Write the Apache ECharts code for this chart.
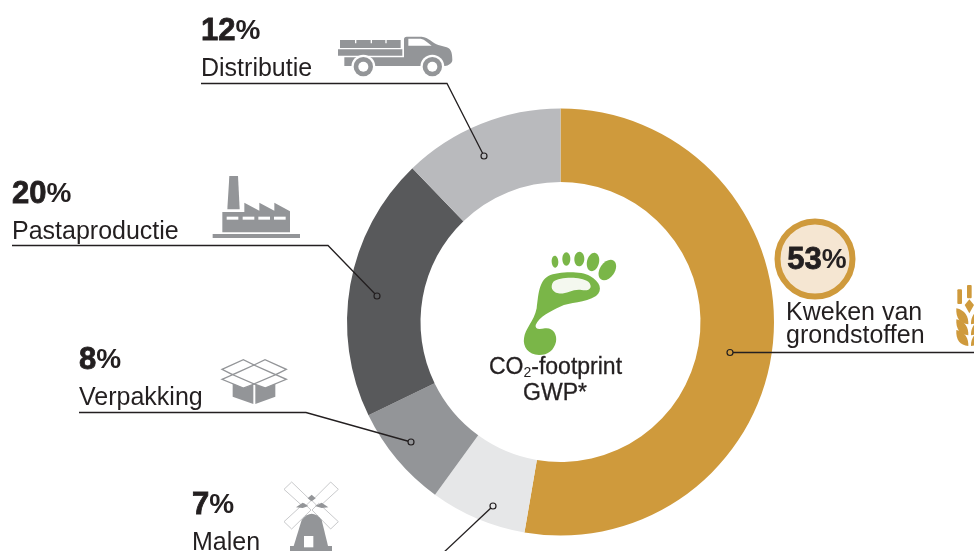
<!DOCTYPE html>
<html>
<head>
<meta charset="utf-8">
<style>html,body{margin:0;padding:0;background:#fff}#container{width:974px;height:551px}</style>
<script src="https://cdn.jsdelivr.net/npm/echarts@6/dist/echarts.min.js"></script>
</head>
<body>
<div id="container"></div>
<script>
var categories = ['Kweken van\ngrondstoffen', 'Malen', 'Verpakking', 'Pastaproductie', 'Distributie'];
var values = [52.7, 7.3, 7.8, 20, 12.2];
var colors = ['#cf9a3c', '#e6e7e8', '#939598', '#58595b', '#b9babd'];

var labelFont = '"Liberation Sans", sans-serif';
var ink = '#231f20';
var iconGrey = '#939598';

// label box and leader line per slice: dot, elbow, end
var labelPos = [
    {x: 786, y: 302},
    {x: 192, y: 486},
    {x: 79, y: 341},
    {x: 12, y: 175},
    {x: 201, y: 12}
];
var leaders = [
    [[730, 352.5], [974, 352.5]],
    [[493, 506], [425, 570]],
    [[411, 442], [306, 412.5], [79, 412.5]],
    [[377, 296], [328, 245.5], [12, 245.5]],
    [[484, 156], [447, 83.5], [201, 83.5]]
];

// the graphic component has no plain path type, so register each svg path as a shape
var pathCount = 0;
function svg(d, style) {
    var name = 'iconPath' + (pathCount++);
    echarts.graphic.registerShape(name, echarts.graphic.extendPath(d));
    return {type: name, style: style};
}

function truckIcon() {
    var kids = [
        {type: 'rect', shape: {x: 450, y: 120, width: 182, height: 24}, style: {fill: iconGrey}},
        {type: 'rect', shape: {x: 444, y: 148, width: 193, height: 19}, style: {fill: iconGrey}},
        svg('M642,172 L642,118 Q642,110 650,110 L695,110 C715,112 730,130 745,135 L770,142 C785,145 787,165 787,180 C787,190 775,197 765,198 L463,198 L463,172 Z', {fill: iconGrey}),
        svg('M655,116 L692,116 C705,118 715,130 725,137 L655,137 Z', {fill: '#fff'})
    ];
    [495, 542, 586].forEach(function (x) {
        kids.push({type: 'rect', shape: {x: x, y: 120, width: 4, height: 10}, style: {fill: '#fff'}});
    });
    [520, 727].forEach(function (cx) {
        kids.push({type: 'circle', shape: {cx: cx, cy: 200, r: 36}, style: {fill: '#fff'}});
        kids.push({type: 'circle', shape: {cx: cx, cy: 200, r: 29}, style: {fill: iconGrey}});
        kids.push({type: 'circle', shape: {cx: cx, cy: 200, r: 15}, style: {fill: '#fff'}});
    });
    return {type: 'group', x: 190, y: 0, scaleX: 1 / 3, scaleY: 1 / 3, silent: true, children: kids};
}

function factoryIcon() {
    var kids = [
        svg('M688,18 L714,18 L719,118 L682,118 Z', {fill: iconGrey}),
        svg('M667,187 L667,126 L733,126 L733,98 L778,122 L778,98 L823,122 L823,98 L870,124 L870,187 Z', {fill: iconGrey}),
        {type: 'rect', shape: {x: 638, y: 192, width: 262, height: 12}, style: {fill: iconGrey}}
    ];
    [680, 728, 775, 822].forEach(function (x) {
        kids.push({type: 'rect', shape: {x: x, y: 140, width: 35, height: 9}, style: {fill: '#fff'}});
    });
    return {type: 'group', x: 0, y: 170, scaleX: 1 / 3, scaleY: 1 / 3, silent: true, children: kids};
}

function boxIcon() {
    var flap = {stroke: iconGrey, fill: '#fff', lineWidth: 4};
    var kids = [
        svg('M698,632 L740,652 L760,640 L760,702 L698,680 Z', {fill: iconGrey}),
        svg('M766,640 L790,652 L826,632 L826,680 L766,702 Z', {fill: iconGrey}),
        svg('M666,598 L730,569 L762,585 L698,614 Z', flap),
        svg('M762,585 L795,569 L859,598 L827,614 Z', flap),
        svg('M666,628 L698,614 L762,642 L730,654 Z', flap),
        svg('M827,614 L859,628 L795,654 L762,642 Z', flap)
    ];
    return {type: 'group', x: 0, y: 170, scaleX: 1 / 3, scaleY: 1 / 3, silent: true, children: kids};
}

function millIcon() {
    var sail = {stroke: '#c9cacc', fill: '#fff', lineWidth: 3};
    var kids = [
        svg('M312,58 L335,36 L393,92 L372,112 Z', sail),
        svg('M475,58 L452,36 L396,92 L416,112 Z', sail),
        svg('M312,155 L335,177 L393,120 L372,100 Z', sail),
        svg('M475,155 L452,177 L396,120 L416,100 Z', sail),
        svg('M340,232 L365,150 Q395,112 425,150 L445,232 Z', {fill: iconGrey}),
        {type: 'rect', shape: {x: 330, y: 228, width: 126, height: 15}, style: {fill: iconGrey}},
        {type: 'rect', shape: {x: 372, y: 198, width: 28, height: 34}, style: {fill: '#fff'}},
        svg('M395,74 L407,85 L395,94 L383,85 Z', {fill: iconGrey}),
        svg('M348,112 L368,98 L385,108 L368,114 Z', {fill: iconGrey}),
        svg('M445,112 L425,98 L405,108 L425,114 Z', {fill: iconGrey})
    ];
    return {type: 'group', x: 180, y: 470, scaleX: 1 / 3, scaleY: 1 / 3, silent: true, children: kids};
}

function wheatIcon() {
    var gold = {fill: '#cf9a3c'};
    var kids = [
        {type: 'rect', shape: {x: 592, y: 238, width: 14, height: 44, r: 3}, style: gold},
        {type: 'rect', shape: {x: 621, y: 225, width: 14, height: 40, r: 3}, style: gold},
        svg('M628,268 L642,285 L628,310 L614,285 Z', gold)
    ];
    [295, 328, 360].forEach(function (y) {
        kids.push(svg('M589,' + y + ' C615,' + (y + 5) + ' 626,' + (y + 25) + ' 625,' + (y + 48) + ' C600,' + (y + 46) + ' 587,' + (y + 30) + ' 589,' + y + ' Z', gold));
        kids.push(svg('M667,' + y + ' C645,' + (y + 5) + ' 632,' + (y + 25) + ' 633,' + (y + 48) + ' C656,' + (y + 46) + ' 669,' + (y + 30) + ' 667,' + y + ' Z', gold));
    });
    return {type: 'group', x: 760, y: 210, scaleX: 1 / 3, scaleY: 1 / 3, silent: true, children: kids};
}

function footIcon() {
    var green = {fill: '#7ab648'};
    var toes = [[255, 65, 10, 18, 0.05], [289, 57, 12, 20, 0], [328, 57, 15, 22, -0.05], [369, 66, 18, 28, -0.25], [412, 90, 22, 34, -0.6]];
    var kids = [
        svg('M207,345 C175,345 158,320 162,295 C165,265 192,245 200,205 C205,170 205,125 235,108 C265,95 330,92 360,108 C390,125 400,150 378,168 C345,190 300,185 270,200 C240,215 208,228 197,255 C195,268 205,268 225,265 C250,262 262,285 258,305 C252,330 235,345 207,345 Z', green),
        svg('M250,125 C270,110 330,108 355,125 C370,140 360,155 335,150 C310,145 285,165 265,160 C245,155 240,140 250,125 Z', {fill: '#f4f8ef'})
    ];
    toes.forEach(function (t) {
        kids.push({type: 'ellipse', x: t[0], y: t[1], rotation: t[4], shape: {cx: 0, cy: 0, rx: t[2], ry: t[3]}, style: green});
    });
    return {type: 'group', x: 470, y: 240, scaleX: 1 / 3, scaleY: 1 / 3, silent: true, children: kids};
}

var myChart = echarts.init(document.getElementById('container'));

var pieData = categories.map(function (name, i) {
    return {name: name, value: values[i], itemStyle: {color: colors[i]}};
});

var graphics = [truckIcon(), factoryIcon(), boxIcon(), millIcon(), wheatIcon(), footIcon()];

// leader lines and their dots go over the slices
leaders.forEach(function (l, i) {
    graphics.push({
        type: 'polyline', z: 20, silent: true,
        shape: {points: l},
        style: {fill: 'none', stroke: ink, lineWidth: 1.3}
    });
    graphics.push({
        type: 'circle', z: 21, silent: true,
        shape: {cx: l[0][0], cy: l[0][1], r: 3},
        style: {fill: colors[i], stroke: ink, lineWidth: 1.2}
    });
});

// 53% badge
graphics.push({type: 'circle', silent: true, shape: {cx: 815, cy: 259, r: 37.5}, style: {fill: '#f5e6d2', stroke: '#cf9a3c', lineWidth: 6}});
graphics.push({
    type: 'text', silent: true, x: 817, y: 260,
    style: {
        text: '{n|' + Math.round(values[0]) + '}{p|%}', align: 'center', verticalAlign: 'middle',
        rich: {
            n: {fontFamily: labelFont, fontSize: 31, fontWeight: 'bold', fill: ink, stroke: ink, lineWidth: 0.8},
            p: {fontFamily: labelFont, fontSize: 28, fontWeight: 'bold', fill: ink}
        }
    }
});

// centre caption
graphics.push({
    type: 'text', silent: true, x: 555.5, y: 368,
    style: {
        text: '{a|CO}{s|2}{a|-footprint}', align: 'center', verticalAlign: 'middle',
        rich: {
            a: {fontFamily: labelFont, fontSize: 23, fill: ink, stroke: ink, lineWidth: 0.3},
            s: {fontFamily: labelFont, fontSize: 14, fill: ink, padding: [10, 0, 0, 0]}
        }
    }
});
graphics.push({
    type: 'text', silent: true, x: 555, y: 394,
    style: {text: 'GWP*', align: 'center', verticalAlign: 'middle', font: '23px ' + labelFont, fill: ink, stroke: ink, lineWidth: 0.3}
});

var option = {
    animation: false,
    backgroundColor: '#fff',
    graphic: graphics,
    series: [{
        type: 'pie',
        center: [560.5, 322],
        radius: [140, 213.5],
        startAngle: 90,
        clockwise: true,
        silent: true,
        data: pieData,
        label: {
            show: true,
            position: 'outside',
            formatter: function (p) {
                if (p.dataIndex === 0) {
                    return '{t2|' + p.name.replace('\n', '}\n{t2|') + '}';
                }
                return '{n|' + Math.round(p.value) + '}{p|%}\n{t|' + p.name + '}';
            },
            align: 'left',
            rich: {
                n: {fontFamily: labelFont, fontSize: 31, fontWeight: 'bold', color: ink, textBorderColor: ink, textBorderWidth: 0.8, lineHeight: 38},
                p: {fontFamily: labelFont, fontSize: 28, fontWeight: 'bold', color: ink, lineHeight: 38},
                t: {fontFamily: labelFont, fontSize: 25, color: ink, lineHeight: 38},
                t2: {fontFamily: labelFont, fontSize: 25, color: ink, lineHeight: 23}
            }
        },
        labelLine: {show: false},
        labelLayout: function (params) {
            var i = params.dataIndex;
            return {
                x: labelPos[i].x, y: labelPos[i].y,
                align: 'left', verticalAlign: 'top',
                hideOverlap: false, moveOverlap: false
            };
        }
    }]
};

myChart.setOption(option);
</script>
</body>
</html>
